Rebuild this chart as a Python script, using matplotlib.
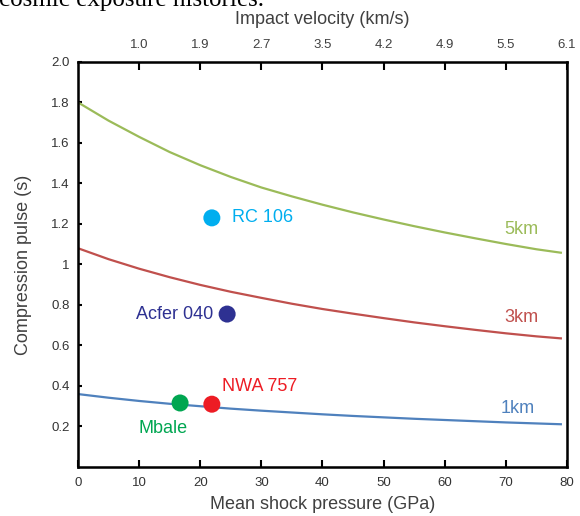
import matplotlib.pyplot as plt

# lectura del grafico de referencia
pressure = [0, 5, 10, 15, 20, 25, 30, 35, 40, 45, 50, 55, 60, 65, 70, 75, 79]
pulse_5km = [1.80, 1.710, 1.630, 1.555, 1.490, 1.432, 1.380, 1.336, 1.295, 1.257, 1.222, 1.189, 1.158, 1.129, 1.101, 1.075, 1.058]
pulse_3km = [1.080, 1.026, 0.979, 0.937, 0.899, 0.865, 0.835, 0.806, 0.780, 0.757, 0.735, 0.714, 0.695, 0.677, 0.660, 0.645, 0.635]
pulse_1km = [0.360, 0.342, 0.326, 0.312, 0.300, 0.288, 0.278, 0.269, 0.260, 0.252, 0.245, 0.238, 0.232, 0.226, 0.220, 0.215, 0.211]

meteorites = ['RC 106', 'Acfer 040', 'Mbale', 'NWA 757']
met_pressure = [21.9, 24.4, 16.7, 21.9]
met_pulse = [1.23, 0.755, 0.316, 0.31]
met_colors = ['#00aeef', '#2e3192', '#00a651', '#ed1c24']

top_ticks = [10, 20, 30, 40, 50, 60, 70, 80]
top_labels = ['1.0', '1.9', '2.7', '3.5', '4.2', '4.9', '5.5', '6.1']

plt.rcParams['font.family'] = ['Liberation Sans', 'DejaVu Sans']

fig = plt.figure(figsize=(5.8, 5.16), dpi=100)
ax = fig.add_axes([0.1345, 0.095, 0.843, 0.785])

ax.plot(pressure, pulse_5km, color='#9bbb59', lw=1.6)
ax.plot(pressure, pulse_3km, color='#c0504d', lw=1.6)
ax.plot(pressure, pulse_1km, color='#4f81bd', lw=1.6)

ax.scatter(met_pressure, met_pulse, s=150, c=met_colors, zorder=3, edgecolors='none')

fs = 13
ax.text(met_pressure[0] + 3.3, met_pulse[0], meteorites[0], color=met_colors[0], fontsize=fs, va='center', ha='left')
ax.text(met_pressure[1] - 2.3, met_pulse[1], meteorites[1], color=met_colors[1], fontsize=fs, va='center', ha='right')
ax.text(13.9, 0.19, meteorites[2], color=met_colors[2], fontsize=fs, va='center', ha='center')
ax.text(23.6, 0.397, meteorites[3], color=met_colors[3], fontsize=fs, va='center', ha='left')

ax.text(75.4, 1.175, '5km', color='#9bbb59', fontsize=fs, va='center', ha='right')
ax.text(75.4, 0.736, '3km', color='#c0504d', fontsize=fs, va='center', ha='right')
ax.text(74.8, 0.288, '1km', color='#4f81bd', fontsize=fs, va='center', ha='right')

ax.set_xlim(0, 80)
ax.set_ylim(0, 2.0)
ax.set_xticks(range(0, 90, 10))
ax.set_yticks([0.2, 0.4, 0.6, 0.8, 1.0, 1.2, 1.4, 1.6, 1.8, 2.0])
ax.set_yticklabels(['0.2', '0.4', '0.6', '0.8', '1', '1.2', '1.4', '1.6', '1.8', '2.0'])
ax.tick_params(direction='in', length=5, width=1.5, labelsize=9.5, labelcolor='#333333', pad=7)
ax.tick_params(axis='y', length=3, pad=6)
for s in ax.spines.values():
    s.set_linewidth(1.8)

ax.set_xlabel('Mean shock pressure (GPa)', fontsize=fs, color='#404040', labelpad=5)
ax.set_ylabel('Compression pulse (s)', fontsize=fs, color='#404040', labelpad=14)

ax2 = ax.twiny()
ax2.set_xlim(0, 80)
ax2.set_xticks(top_ticks)
ax2.set_xticklabels(top_labels)
ax2.tick_params(direction='in', length=6, width=1.5, labelsize=9.5, labelcolor='#404040', pad=8)
ax2.set_xlabel('Impact velocity (km/s)', fontsize=fs, color='#404040', labelpad=11)

# texto cortado del documento original
fig.text(-0.002, 1 - 6 / 516, 'cosmic exposure histories.', fontsize=18,
         family='Liberation Serif', va='baseline', ha='left')

fig.savefig('out.png', dpi=100, facecolor='white')
